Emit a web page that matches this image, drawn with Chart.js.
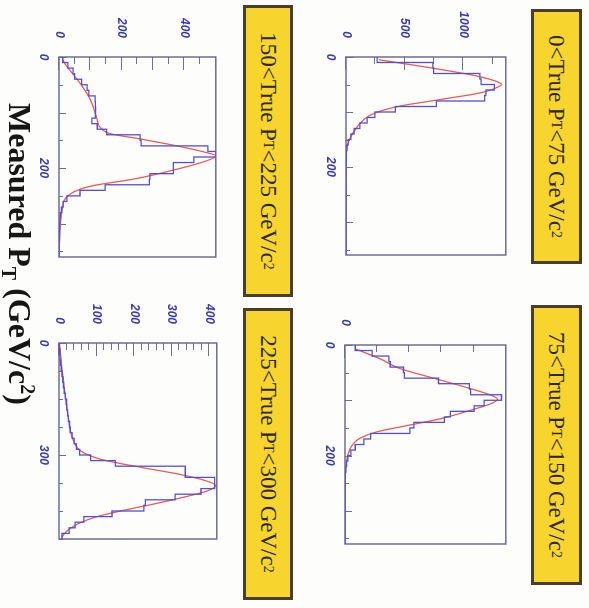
<!DOCTYPE html>
<html lang="en">
<head>
<meta charset="UTF-8">
<title>Measured PT in bins of true PT</title>
<script src="https://cdn.jsdelivr.net/npm/chart.js"></script>
<style>
    html, body { margin: 0; padding: 0; background: #fff; }
    body { width: 589px; height: 608px; overflow: hidden; position: relative; }
    /* the figure is laid out upright and then turned a quarter turn clockwise, like the scan */
    #fig {
        position: absolute; left: 0; top: 0;
        width: 608px; height: 589px;
        transform-origin: 0 0;
        transform: translate(589px, 0) rotate(90deg);
        background: #fdfdfc;
    }
    #fig canvas { position: absolute; }
    .box {
        position: absolute; box-sizing: border-box;
        background: #f7d52e; border: 3px solid #4a3e28;
        display: flex; align-items: center; justify-content: center;
        font: 23px "Liberation Serif", serif; color: #2b2618; white-space: nowrap;
    }
    .box sub, .box sup { font-size: 14px; line-height: 0; }
    #xtitle {
        position: absolute; left: 103px; top: 553px;
        font: bold 32px/32px "Liberation Serif", serif; color: #161616; white-space: nowrap;
    }
    #xtitle sub, #xtitle sup { font-size: 20px; line-height: 0; }
</style>
</head>
<body>
<div id="fig">
    <div class="box" style="left:9px;top:7px;width:255px;height:51px">0&lt;True P<sub>T</sub>&lt;75 GeV/c<sup>2</sup></div>
    <div class="box" style="left:305px;top:7px;width:280px;height:51px">75&lt;True P<sub>T</sub>&lt;150 GeV/c<sup>2</sup></div>
    <div class="box" style="left:5px;top:296px;width:292px;height:50px">150&lt;True P<sub>T</sub>&lt;225 GeV/c<sup>2</sup></div>
    <div class="box" style="left:308px;top:296px;width:292px;height:50px">225&lt;True P<sub>T</sub>&lt;300 GeV/c<sup>2</sup></div>
    <canvas id="c0"></canvas>
    <canvas id="c1"></canvas>
    <canvas id="c2"></canvas>
    <canvas id="c3"></canvas>
    <div id="xtitle">Measured P<sub>T</sub> (GeV/c<sup>2</sup>)</div>
</div>

<script>
    // ---- data ----
    // histogram counts per bin, starting at measured PT = 0
    const p0Bin = 10;
    const p0Counts = [265, 740, 745, 1140, 1150, 1262, 1190, 1180, 770, 420, 245, 180, 118, 70, 42, 18, 7, 3, 2, 1,
                      1, 0, 0, 0, 0, 0, 0, 0, 0, 0, 0, 0, 0, 0, 0, 0];
    const p0FitX = [5, 23, 35, 47, 50, 53, 65, 77, 89, 101, 113, 131, 149, 167, 185, 220];
    const p0FitY = [280, 813, 1123, 1309, 1322, 1309, 1148, 813, 466, 255, 156, 82, 32, 7, 1, 0];

    const p1Bin = 10;
    const p1Counts = [76, 200, 325, 335, 433, 440, 692, 920, 930, 1158, 1030, 955, 780, 736, 510, 480, 190, 140, 76, 43,
                      22, 11, 6, 3, 1, 0, 0, 0, 0, 0, 0, 0, 0, 0, 0, 0];
    const p1FitX = [7, 25, 43, 61, 79, 91, 98, 106, 118, 133, 145, 157, 169, 181, 199, 229, 260];
    const p1FitY = [76, 260, 411, 671, 930, 1082, 1130, 1082, 930, 714, 476, 238, 108, 54, 22, 4, 0];

    const p2Bin = 10;
    const p2Counts = [12, 28, 45, 50, 72, 90, 95, 115, 116, 117, 116, 105, 122, 152, 259, 262, 475, 500, 430, 365,
                      365, 290, 288, 147, 67, 25, 13, 8, 4, 3, 2, 1, 1, 0, 0, 0];
    const p2FitX = [5, 17, 47, 77, 107, 136, 148, 160, 172, 178, 187, 202, 220, 231, 240, 255, 273, 297, 345];
    const p2FitY = [11, 25, 67, 100, 119, 152, 264, 376, 470, 500, 470, 376, 236, 114, 58, 20, 11, 5, 1];

    const p3Bin = 15;
    const p3Counts = [1, 2, 3, 4, 6, 8, 10, 12, 14, 17, 20, 21, 23, 25, 28, 30, 35, 40, 46, 55,
                      84, 150, 336, 336, 414, 414, 378, 309, 230, 226, 141, 66, 43, 27, 8];
    const p3FitX = [0, 113, 201, 263, 290, 312, 334, 351, 369, 382, 396, 413, 431, 449, 466, 484, 502, 519];
    const p3FitY = [1, 13, 25, 39, 59, 113, 223, 317, 391, 417, 395, 332, 254, 168, 98, 51, 23, 8];

    // axis ranges and labelled ticks
    const xMax = [360, 360, 360, 525];
    const xStep = [50, 50, 50, 75];
    const xLabels = [[0, 200], [0, 200], [0, 200], [0, 300]];
    const yMax = [1360, 1190, 500, 420];
    const yStep = [250, 250, 50, 20];
    const yMajor = [500, 500, 100, 100];
    const yLabels = [[0, 500, 1000], [0, 500, 1000], [0, 200, 400], [0, 100, 200, 300, 400]];

    // plot frames in the upright figure: left, top, width, height
    const frames = [[57, 61, 198, 182], [345, 61, 199, 183], [57, 351, 200, 179], [343, 350, 200, 180]];

    const bins = [p0Bin, p1Bin, p2Bin, p3Bin];
    const counts = [p0Counts, p1Counts, p2Counts, p3Counts];
    const fitX = [p0FitX, p1FitX, p2FitX, p3FitX];
    const fitY = [p0FitY, p1FitY, p2FitY, p3FitY];

    const AXIS_W = 50, AXIS_H = 28, PAD = 4;
    const blueText = '#3b3bab';

    // inward tick marks and the frame, ROOT style
    const frameTicks = {
        id: 'frameTicks',
        beforeDatasetsDraw(chart, args, opts) {
            const { ctx, chartArea: a, scales: { x, y } } = chart;
            ctx.save();
            ctx.strokeStyle = '#6e6e92';
            ctx.lineWidth = 1;
            x.ticks.forEach(t => {
                const px = Math.round(x.getPixelForValue(t.value)) + 0.5;
                const len = t.value % opts.xMajor === 0 ? 7 : 4;
                ctx.beginPath(); ctx.moveTo(px, a.bottom); ctx.lineTo(px, a.bottom - len); ctx.stroke();
            });
            y.ticks.forEach(t => {
                const py = Math.round(y.getPixelForValue(t.value)) + 0.5;
                const len = t.value % opts.yMajor === 0 ? 13 : 7;
                ctx.beginPath(); ctx.moveTo(a.left, py); ctx.lineTo(a.left + len, py); ctx.stroke();
            });
            ctx.lineWidth = 1.5;
            ctx.strokeRect(a.left, a.top, a.right - a.left, a.bottom - a.top);
            ctx.restore();
        }
    };

    function histPoints(c, w) {
        const pts = [];
        c.forEach((v, i) => {
            pts.push({ x: i * w, y: v });
            pts.push({ x: (i + 1) * w, y: v });
        });
        return pts;
    }

    for (let i = 0; i < 4; i++) {
        const [fl, ft, fw, fh] = frames[i];
        const cv = document.getElementById('c' + i);
        cv.width = fw + AXIS_W + PAD;
        cv.height = fh + PAD + AXIS_H;
        cv.style.left = (fl - AXIS_W) + 'px';
        cv.style.top = (ft - PAD) + 'px';

        new Chart(cv.getContext('2d'), {
            type: 'line',
            data: {
                datasets: [{
                    data: histPoints(counts[i], bins[i]),
                    borderColor: '#5050d2',
                    borderWidth: 1.3,
                    pointRadius: 0,
                    tension: 0
                }, {
                    data: fitX[i].map((v, k) => ({ x: v, y: fitY[i][k] })),
                    borderColor: '#e95c52',
                    borderWidth: 1.3,
                    pointRadius: 0,
                    cubicInterpolationMode: 'monotone'
                }]
            },
            options: {
                responsive: false,
                animation: false,
                devicePixelRatio: 1,
                layout: { padding: { top: PAD, right: PAD, left: 0, bottom: 0 } },
                plugins: {
                    legend: { display: false },
                    tooltip: { enabled: false },
                    frameTicks: { xMajor: 100, yMajor: yMajor[i] }
                },
                scales: {
                    x: {
                        type: 'linear', min: 0, max: xMax[i],
                        afterFit: s => { s.height = AXIS_H; },
                        grid: { display: false, drawTicks: false },
                        border: { display: false },
                        ticks: {
                            stepSize: xStep[i], includeBounds: false, autoSkip: false,
                            maxRotation: 0, minRotation: 0, padding: 8,
                            color: blueText,
                            font: { family: 'Liberation Sans', size: 12, style: 'italic', weight: 'bold' },
                            callback: v => xLabels[i].includes(v) ? String(v) : ''
                        }
                    },
                    y: {
                        type: 'linear', min: 0, max: yMax[i],
                        afterFit: s => { s.width = AXIS_W; },
                        grid: { display: false, drawTicks: false },
                        border: { display: false },
                        ticks: {
                            stepSize: yStep[i], includeBounds: false, autoSkip: false, padding: 19,
                            color: blueText,
                            font: { family: 'Liberation Sans', size: 12, style: 'italic', weight: 'bold' },
                            callback: v => yLabels[i].includes(v) ? String(v) : ''
                        }
                    }
                }
            },
            plugins: [frameTicks]
        });
    }
</script>
</body>
</html>
